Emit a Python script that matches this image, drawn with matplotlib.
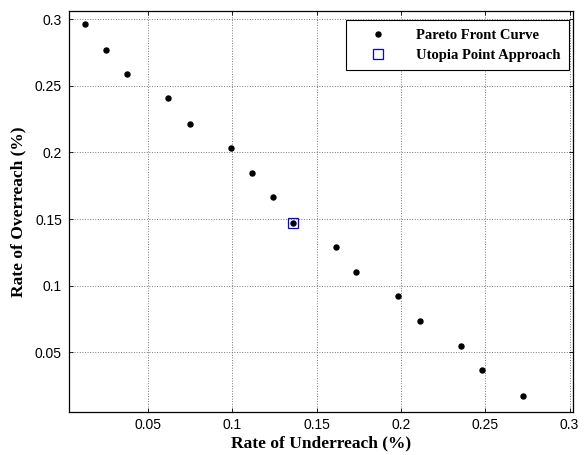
import matplotlib
matplotlib.use("Agg")
import matplotlib.pyplot as plt

underreach = [0.0124, 0.0249, 0.0373, 0.0619, 0.0746, 0.0990, 0.1117, 0.1241,
              0.1362, 0.1612, 0.1733, 0.1985, 0.2110, 0.2355, 0.2480, 0.2726]
overreach = [0.2960, 0.2770, 0.2590, 0.2407, 0.2217, 0.2037, 0.1846, 0.1664,
             0.1474, 0.1292, 0.1103, 0.0920, 0.0738, 0.0550, 0.0367, 0.0177]
utopia_x = [0.1362]
utopia_y = [0.1474]
xticks = [0.05, 0.1, 0.15, 0.2, 0.25, 0.3]
yticks = [0.05, 0.1, 0.15, 0.2, 0.25, 0.3]

fig = plt.figure(figsize=(5.84, 4.55), dpi=100)
ax = fig.add_axes([0.118, 0.0956, 0.863, 0.880])

ax.plot(underreach, overreach, linestyle='none', marker='o', markersize=3.6,
        color='black', label='Pareto Front Curve')
ax.plot(utopia_x, utopia_y, linestyle='none', marker='s', markersize=6.5,
        markerfacecolor='none', markeredgecolor='blue', markeredgewidth=0.9,
        label='Utopia Point Approach')

ax.set_xlim(0.003, 0.302)
ax.set_ylim(0.0057, 0.306)
ax.set_xticks(xticks)
ax.set_xticklabels(['0.05', '0.1', '0.15', '0.2', '0.25', '0.3'])
ax.set_yticks(yticks)
ax.set_yticklabels(['0.05', '0.1', '0.15', '0.2', '0.25', '0.3'])
ax.tick_params(direction='in', top=True, right=True, length=3, width=0.6,
               labelsize=10, pad=5)
for lbl in ax.get_xticklabels() + ax.get_yticklabels():
    lbl.set_fontfamily('Liberation Sans')

ax.grid(True, linestyle=':', color='#777777', linewidth=0.7)
for s in ax.spines.values():
    s.set_linewidth(0.9)

ax.set_xlabel('Rate of Underreach (%)', fontfamily='Liberation Serif',
              fontweight='bold', fontsize=12.5, labelpad=2)
ax.set_ylabel('Rate of Overreach (%)', fontfamily='Liberation Serif',
              fontweight='bold', fontsize=12.5, labelpad=6)

leg = ax.legend(loc='upper right', bbox_to_anchor=(0.992, 0.978), borderaxespad=0,
                fancybox=False, framealpha=1, edgecolor='black',
                prop={'family': 'Liberation Serif', 'weight': 'bold', 'size': 10.5},
                handlelength=3.2, borderpad=0.6, labelspacing=0.45, handletextpad=1.0)
leg.get_frame().set_linewidth(0.8)

fig.savefig('out.png', dpi=100)
